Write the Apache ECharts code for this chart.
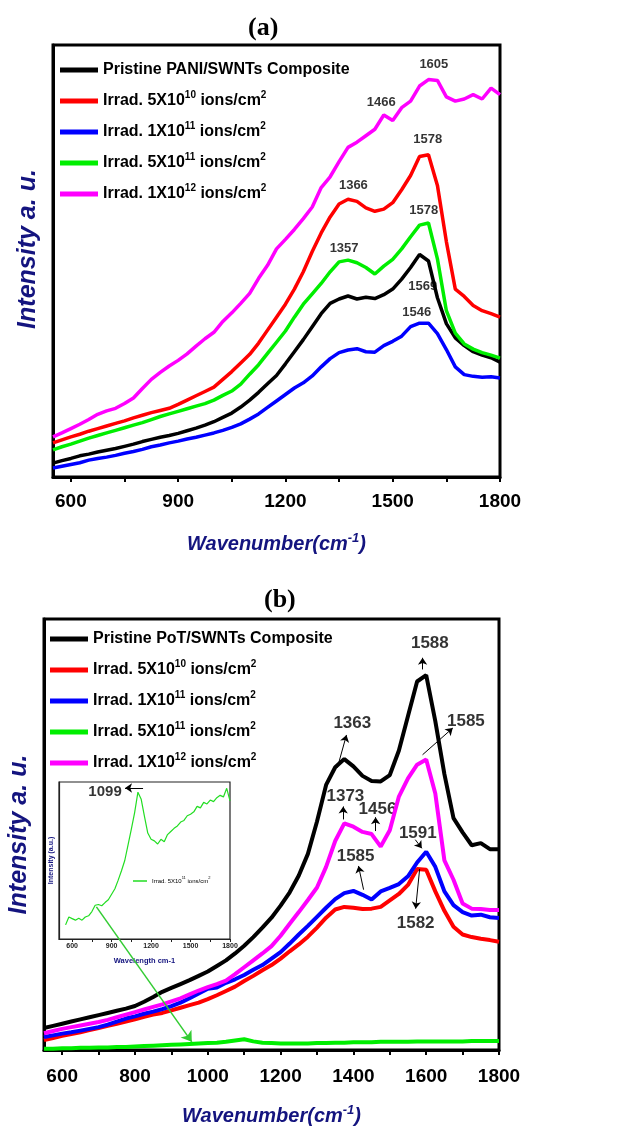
<!DOCTYPE html>
<html>
<head>
<meta charset="utf-8">
<title>Raman spectra PANI / PoT SWNTs</title>
<script src="https://cdn.jsdelivr.net/npm/echarts@6/dist/echarts.min.js"></script>
<style>
  html, body { margin: 0; padding: 0; background: #fff; }
  #chart { width: 630px; height: 1130px; }
</style>
</head>
<body>
<div id="chart"></div>
<script>
// wavenumber grid shared by every spectrum (cm-1)
const wavenumbers = [550, 575, 600, 625, 650, 675, 700, 725, 750, 775, 800, 825, 850, 875, 900, 925, 950, 975,
  1000, 1025, 1050, 1075, 1100, 1125, 1150, 1175, 1200, 1225, 1250, 1275, 1300, 1325, 1350, 1375,
  1400, 1425, 1450, 1475, 1500, 1525, 1550, 1575, 1600, 1625, 1650, 1675, 1700, 1725, 1750, 1775, 1800]

// (a) PANI/SWNTs, intensity a.u.
const pristineA = [3.2, 3.8, 4.3, 4.9, 5.3, 5.8, 6.2, 6.6, 7.1, 7.6,
  8.2, 8.7, 9.2, 9.6, 10.1, 10.7, 11.3, 12.0,
  12.8, 13.8, 14.8, 16.2, 17.8, 19.6, 21.6, 23.5,
  26.2, 29.0, 31.8, 34.8, 37.8, 40.2, 41.2, 41.9,
  41.2, 41.6, 41.3, 42.2, 43.5, 45.8, 48.5, 51.5,
  50.0, 41.5, 35.5, 32.2, 30.4, 29.0, 28.2, 27.6, 26.6]
const irrA5e10 = [7.9, 8.6, 9.3, 9.9, 10.6, 11.2, 11.8, 12.4, 13.0, 13.7,
  14.3, 14.9, 15.4, 15.9, 16.8, 17.8, 18.8, 19.8,
  20.8, 22.6, 24.4, 26.4, 28.4, 31.0, 34.0, 37.0,
  40.0, 43.5, 47.5, 52.2, 56.5, 60.2, 63.2, 64.3,
  63.8, 62.3, 61.5, 62.0, 63.5, 66.5, 69.8, 74.2,
  74.6, 67.5, 54.5, 43.5, 41.8, 39.7, 38.5, 37.8, 37.0]
const irrA1e11 = [2.1, 2.5, 2.9, 3.3, 3.9, 4.3, 4.6, 5.0, 5.5, 5.9,
  6.4, 7.0, 7.4, 7.9, 8.3, 8.8, 9.2, 9.7,
  10.2, 10.8, 11.5, 12.3, 13.4, 14.6, 16.1, 17.6,
  19.1, 20.6, 21.8, 23.4, 25.5, 27.4, 28.8, 29.4,
  29.7, 29.0, 28.9, 30.4, 31.4, 32.6, 34.8, 35.6,
  35.6, 33.2, 29.5, 25.5, 23.7, 23.3, 23.1, 23.2, 22.9]
const irrA5e11 = [6.3, 7.0, 7.6, 8.3, 9.0, 9.6, 10.2, 10.8, 11.4, 12.0,
  12.6, 13.3, 14.0, 14.6, 15.2, 15.8, 16.4, 17.0,
  17.8, 18.9, 19.9, 21.5, 23.8, 26.0, 28.6, 31.2,
  33.8, 37.0, 40.0, 42.4, 44.8, 47.5, 49.8, 50.2,
  49.6, 48.5, 47.0, 48.8, 50.4, 52.8, 55.6, 58.3,
  58.8, 50.5, 38.5, 33.3, 30.8, 29.6, 28.8, 28.2, 27.5]
const irrA1e12 = [9.3, 10.2, 11.2, 12.2, 13.3, 14.5, 15.3, 15.9, 17.0, 18.3,
  20.5, 22.6, 24.2, 25.7, 27.0, 28.5, 30.3, 32.0,
  33.5, 36.0, 38.0, 40.2, 42.5, 46.0, 49.0, 52.8,
  55.0, 57.3, 59.8, 62.5, 67.0, 69.5, 73.0, 76.3,
  77.5, 79.0, 80.5, 83.8, 82.5, 85.5, 87.0, 90.5,
  92.0, 91.8, 88.0, 87.0, 87.5, 88.5, 87.5, 90.0, 88.5]

// (b) PoT/SWNTs, intensity a.u.
const pristineB = [5.1, 5.6, 6.1, 6.6, 7.1, 7.6, 8.1, 8.6, 9.1, 9.6,
  10.2, 11.2, 12.3, 13.5, 14.4, 15.3, 16.2, 17.2,
  18.2, 19.5, 20.8, 22.4, 24.2, 26.2, 28.4, 30.7,
  33.5, 36.6, 40.5, 45.5, 53.0, 61.5, 65.6, 67.5,
  65.8, 63.6, 62.4, 62.3, 63.8, 69.5, 77.5, 85.5,
  87.0, 76.3, 64.0, 53.8, 50.5, 47.5, 48.0, 46.6, 46.6]
const irrB5e10 = [2.3, 2.8, 3.3, 3.7, 4.1, 4.6, 5.1, 5.6, 6.1, 6.6,
  7.1, 7.7, 8.2, 8.6, 9.2, 9.8, 10.4, 11.0,
  11.8, 12.7, 13.7, 14.7, 16.0, 17.2, 18.5, 19.7,
  21.2, 22.9, 24.5, 26.3, 28.4, 30.7, 32.6, 33.2,
  33.0, 32.7, 32.8, 33.2, 34.7, 36.2, 38.3, 42.0,
  41.8, 36.8, 32.3, 28.6, 26.8, 26.2, 25.8, 25.5, 25.1]
const irrB1e11 = [3.0, 3.4, 3.8, 4.1, 4.5, 4.9, 5.3, 5.9, 6.6, 7.3,
  7.8, 8.4, 8.9, 9.5, 10.2, 11.0, 12.0, 13.1,
  14.2, 14.5, 15.6, 16.4, 17.4, 18.6, 19.7, 21.2,
  22.7, 24.7, 26.8, 28.8, 30.9, 33.0, 35.0, 36.4,
  36.9, 36.0, 34.9, 36.8, 37.6, 38.5, 40.3, 43.5,
  46.0, 42.5, 36.8, 33.6, 32.0, 31.2, 31.4, 30.8, 30.6]
const irrB5e11 = [0.3, 0.3, 0.4, 0.4, 0.5, 0.5, 0.6, 0.6, 0.7, 0.7,
  0.8, 0.9, 1.0, 1.1, 1.2, 1.3, 1.4, 1.5,
  1.6, 1.7, 1.9, 2.2, 2.5, 2.0, 1.7, 1.6,
  1.5, 1.5, 1.5, 1.5, 1.6, 1.6, 1.7, 1.7,
  1.8, 1.8, 1.8, 1.9, 1.9, 1.9, 1.9, 2.0,
  2.0, 2.0, 2.0, 2.0, 2.0, 2.1, 2.1, 2.1, 2.1]
const irrB1e12 = [3.9, 4.4, 4.9, 5.3, 5.7, 6.1, 6.5, 7.0, 7.6, 8.2,
  8.8, 9.4, 10.0, 10.6, 11.3, 12.0, 12.9, 13.8,
  14.6, 15.3, 16.1, 17.6, 19.2, 20.8, 22.4, 24.1,
  26.5, 29.3, 32.0, 34.8, 37.7, 42.5, 48.5, 52.6,
  51.8, 50.6, 50.1, 47.2, 51.0, 58.8, 63.0, 66.2,
  67.4, 59.5, 44.0, 39.5, 34.0, 32.8, 32.7, 32.5, 32.5]

// inset of (b): 5X10^11 spectrum on its own scale
const insetB5e11 = [9.0, 14.0, 13.0, 12.0, 13.2, 12.0, 14.0, 14.8, 17.5, 21.5,
  22.0, 21.2, 23.2, 25.0, 28.5, 32.0, 37.5, 43.5,
  50.0, 60.0, 70.0, 80.5, 93.5, 89.0, 78.0, 67.5,
  63.5, 62.5, 60.5, 63.5, 62.0, 66.5, 68.5, 70.5,
  72.0, 74.5, 75.5, 78.5, 79.5, 81.0, 84.5, 83.5,
  87.0, 86.0, 88.5, 87.5, 90.0, 91.5, 90.5, 96.0, 88.0]

// axis ticks
const ticksA = [600, 750, 900, 1050, 1200, 1350, 1500, 1650, 1800]
const labelsA = [600, 900, 1200, 1500, 1800]
const ticksB = [600, 700, 800, 900, 1000, 1100, 1200, 1300, 1400, 1500, 1600, 1700, 1800]
const labelsB = [600, 800, 1000, 1200, 1400, 1600, 1800]
const ticksInset = [600, 750, 900, 1050, 1200, 1350, 1500, 1650, 1800]
const labelsInset = [600, 900, 1200, 1500, 1800]

// peak annotations [text, wavenumber, intensity]
const peaksA = [['1605', 1615, 95.4], ['1466', 1468, 86.6], ['1578', 1598, 78.2], ['1366', 1390, 67.4],
  ['1578', 1587, 61.8], ['1357', 1364, 52.8], ['1569', 1584, 44.0], ['1546', 1567, 38.2]]
const peaksB = [['1588', 1610, 94.4], ['1363', 1397, 75.9], ['1585', 1709, 76.3], ['1373', 1378, 58.9],
  ['1456', 1466, 55.9], ['1591', 1577, 50.3], ['1585', 1406, 45.0], ['1582', 1571, 29.5]]
const peaksInset = [['1099', 850, 93.6]]
// arrows [fromX, fromY, toX, toY]
const arrowsB = [[1590, 88.3, 1590, 91.0], [1356, 65.5, 1381, 73.1], [1590, 68.5, 1673, 74.7],
  [1372, 53.5, 1372, 56.5], [1461, 50.8, 1461, 54.0], [1570, 48.8, 1588, 46.8],
  [1428, 37.2, 1414, 42.7], [1582, 42.0, 1571, 32.8]]
const arrowsInset = [[1139, 96.2, 1002, 96.2]]
const pointerArrow = [694, 33.2, 956, 1.9]

const legendA = ['Pristine PANI/SWNTs Composite', 'Irrad. 5X10{sup|10} ions/cm{sup|2}', 'Irrad. 1X10{sup|11} ions/cm{sup|2}',
  'Irrad. 5X10{sup|11} ions/cm{sup|2}', 'Irrad. 1X10{sup|12} ions/cm{sup|2}']
const legendB = ['Pristine PoT/SWNTs Composite', 'Irrad. 5X10{sup|10} ions/cm{sup|2}', 'Irrad. 1X10{sup|11} ions/cm{sup|2}',
  'Irrad. 5X10{sup|11} ions/cm{sup|2}', 'Irrad. 1X10{sup|12} ions/cm{sup|2}']
const colors = ['#000000', '#ff0000', '#0000ff', '#00ee00', '#ff00ff']

const SANS = '"Liberation Sans", Arial, sans-serif'
const NAVY = '#14147f'

const chart = echarts.init(document.getElementById('chart'))

const namesA = ['a0', 'a1', 'a2', 'a3', 'a4']
const namesB = ['b0', 'b1', 'b2', 'b3', 'b4']
const legendLabel = {}
namesA.forEach((n, i) => { legendLabel[n] = legendA[i] })
namesB.forEach((n, i) => { legendLabel[n] = legendB[i] })
legendLabel.inset = 'Irrad. 5X10{sup|11} ions/cm{sup|2}'

const plainNumber = (v) => String(v)

function pairs(values) {
  return wavenumbers.map((w, i) => [w, values[i]])
}

function lineSeries(name, values, color, idx, width) {
  return {
    name,
    type: 'line',
    xAxisIndex: idx,
    yAxisIndex: idx,
    data: pairs(values),
    symbol: 'none',
    showSymbol: false,
    lineStyle: { color, width },
    itemStyle: { color }
  }
}

function peakSeries(list, idx, fontSize) {
  return {
    type: 'scatter',
    xAxisIndex: idx,
    yAxisIndex: idx,
    symbolSize: 0,
    silent: true,
    data: list.map((p) => ({ name: p[0], value: [p[1], p[2]] })),
    label: {
      show: true,
      position: 'inside',
      formatter: '{b}',
      color: '#000',
      fontFamily: SANS,
      fontWeight: 'bold',
      fontSize
    }
  }
}

function arrowLines(list) {
  return list.map((a) => [{ coord: [a[0], a[1]] }, { coord: [a[2], a[3]] }])
}

function legendBlock(names, left, top) {
  return {
    data: names,
    left,
    top,
    padding: 0,
    orient: 'vertical',
    icon: 'rect',
    itemWidth: 38,
    itemHeight: 5,
    itemGap: 9,
    selectedMode: false,
    formatter: (n) => legendLabel[n],
    textStyle: {
      color: '#000',
      fontFamily: SANS,
      fontWeight: 'bold',
      fontSize: 16,
      lineHeight: 22,
      rich: {
        sup: { color: '#000', fontFamily: SANS, fontWeight: 'bold', fontSize: 10, lineHeight: 12, verticalAlign: 'top' }
      }
    }
  }
}

function mainXAxis(idx, ticks, labels, margin, nameGap) {
  return {
    gridIndex: idx,
    type: 'value',
    min: 550,
    max: 1800,
    splitLine: { show: false },
    axisLine: { show: true, onZero: false, lineStyle: { color: '#000', width: 3 } },
    axisTick: { show: true, inside: false, length: 5, customValues: ticks, lineStyle: { color: '#000', width: 2 } },
    axisLabel: { customValues: labels, formatter: plainNumber, margin, color: '#000', fontFamily: SANS, fontWeight: 'bold', fontSize: 19 },
    name: '{t|Wavenumber(cm}{s|-1}{t|)}',
    nameLocation: 'middle',
    nameGap,
    nameTextStyle: {
      rich: {
        t: { color: NAVY, fontFamily: SANS, fontStyle: 'italic', fontWeight: 'bold', fontSize: 20, lineHeight: 24 },
        s: { color: NAVY, fontFamily: SANS, fontStyle: 'italic', fontWeight: 'bold', fontSize: 13, lineHeight: 13, verticalAlign: 'top' }
      }
    }
  }
}

function mainYAxis(idx, shift) {
  return {
    gridIndex: idx,
    type: 'value',
    min: 0,
    max: 100,
    splitLine: { show: false },
    axisLine: { show: true, lineStyle: { color: '#000', width: 3 } },
    axisTick: { show: false },
    axisLabel: { show: false },
    name: 'Intensity a. u.',
    nameLocation: 'middle',
    nameRotate: 90,
    nameGap: 12,
    nameTextStyle: { color: NAVY, fontFamily: SANS, fontStyle: 'italic', fontWeight: 'bold', fontSize: 25, padding: [0, 0, 0, shift] }
  }
}

const serifTitle = { fontFamily: '"Liberation Serif", "Times New Roman", serif', fontWeight: 'bold', fontSize: 26, color: '#000' }

const insetSeries = lineSeries('inset', insetB5e11, '#22dd22', 2, 1.2)

const peaksBSeries = peakSeries(peaksB, 1, 17)
peaksBSeries.markLine = {
  silent: true,
  symbol: ['none', 'arrow'],
  symbolSize: 7,
  label: { show: false },
  lineStyle: { color: '#000', width: 1, type: 'solid' },
  data: arrowLines(arrowsB)
}
const peaksInsetSeries = peakSeries(peaksInset, 2, 15)
peaksInsetSeries.markLine = {
  silent: true,
  symbol: ['none', 'arrow'],
  symbolSize: 7,
  label: { show: false },
  lineStyle: { color: '#000', width: 1, type: 'solid' },
  data: arrowLines(arrowsInset)
}

const greenB = lineSeries('b3', irrB5e11, colors[3], 1, 4)
greenB.markLine = {
  silent: true,
  symbol: ['none', 'arrow'],
  symbolSize: 10,
  label: { show: false },
  lineStyle: { color: '#33cc33', width: 1.5, type: 'solid' },
  data: arrowLines([pointerArrow])
}

const option = {
  animation: false,
  backgroundColor: '#fff',
  title: [
    { text: '(a)', left: 243, top: 10, textStyle: serifTitle },
    { text: '(b)', left: 259, top: 582, textStyle: serifTitle }
  ],
  legend: [
    legendBlock(namesA, 60, 59),
    legendBlock(namesB, 50, 628),
    {
      data: ['inset'],
      left: 133,
      top: 876,
      padding: 0,
      icon: 'rect',
      itemWidth: 14,
      itemHeight: 1.5,
      selectedMode: false,
      formatter: (n) => legendLabel[n],
      textStyle: {
        color: '#000', fontFamily: SANS, fontSize: 6, lineHeight: 10,
        rich: { sup: { color: '#000', fontFamily: SANS, fontSize: 4, lineHeight: 6, verticalAlign: 'top' } }
      }
    }
  ],
  grid: [
    { left: 53, top: 45, width: 447, height: 432, show: true, borderColor: '#000', borderWidth: 3, outerBoundsMode: 'none' },
    { left: 44, top: 619, width: 455, height: 431, show: true, borderColor: '#000', borderWidth: 3, outerBoundsMode: 'none' },
    { left: 59, top: 782, width: 171, height: 157, show: true, borderColor: '#222', borderWidth: 1.2, outerBoundsMode: 'none' }
  ],
  xAxis: [
    mainXAxis(0, ticksA, labelsA, 15, 55),
    mainXAxis(1, ticksB, labelsB, 17, 54),
    {
      gridIndex: 2,
      type: 'value',
      min: 500,
      max: 1800,
      splitLine: { show: false },
      axisLine: { show: true, onZero: false, lineStyle: { color: '#222', width: 1.2 } },
      axisTick: { show: true, length: 3, customValues: ticksInset, lineStyle: { color: '#222', width: 1 } },
      axisLabel: { customValues: labelsInset, formatter: plainNumber, margin: 4, color: '#222', fontFamily: SANS, fontWeight: 'bold', fontSize: 7 },
      name: 'Wavelength cm-1',
      nameLocation: 'middle',
      nameGap: 18,
      nameTextStyle: { color: NAVY, fontFamily: SANS, fontWeight: 'bold', fontSize: 7.5 }
    }
  ],
  yAxis: [
    mainYAxis(0, 24),
    mainYAxis(1, 0),
    {
      gridIndex: 2,
      type: 'value',
      min: 0,
      max: 100,
      splitLine: { show: false },
      axisLine: { show: true, lineStyle: { color: '#222', width: 1.2 } },
      axisTick: { show: false },
      axisLabel: { show: false },
      name: 'Intensity (a.u.)',
      nameLocation: 'middle',
      nameRotate: 90,
      nameGap: 4,
      nameTextStyle: { color: NAVY, fontFamily: SANS, fontWeight: 'bold', fontSize: 7 }
    }
  ],
  series: [
    lineSeries('a0', pristineA, colors[0], 0, 3.5),
    lineSeries('a1', irrA5e10, colors[1], 0, 3.5),
    lineSeries('a2', irrA1e11, colors[2], 0, 3.5),
    lineSeries('a3', irrA5e11, colors[3], 0, 3.5),
    lineSeries('a4', irrA1e12, colors[4], 0, 3.5),
    peakSeries(peaksA, 0, 13),
    lineSeries('b0', pristineB, colors[0], 1, 4),
    lineSeries('b1', irrB5e10, colors[1], 1, 4),
    lineSeries('b2', irrB1e11, colors[2], 1, 4),
    greenB,
    lineSeries('b4', irrB1e12, colors[4], 1, 4),
    peaksBSeries,
    insetSeries,
    peaksInsetSeries
  ]
}

chart.setOption(option)
window.addEventListener('resize', () => {
  chart && chart.resize()
})
</script>
</body>
</html>
